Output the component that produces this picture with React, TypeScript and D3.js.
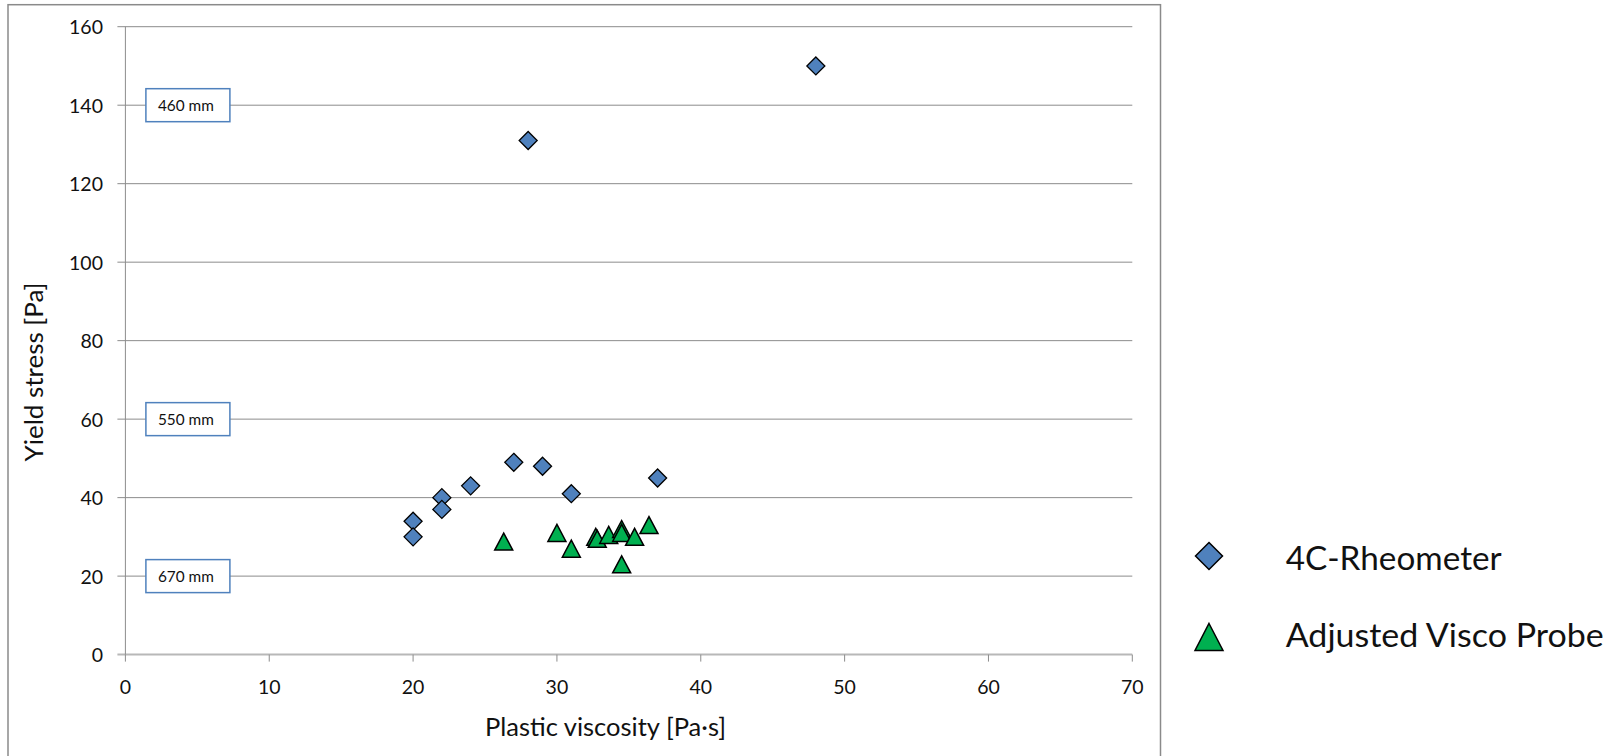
import React from "react";
import * as d3 from "d3";

// Yield stress vs. plastic viscosity for two measuring devices
const rheometerX = [48, 28, 20, 20, 22, 22, 24, 27, 29, 31, 37];
const rheometerY = [150, 131, 34, 30, 40, 37, 43, 49, 48, 41, 45];

const viscoX = [26.3, 30, 31, 32.7, 32.8, 33.6, 34.5, 34.5, 35.4, 36.4, 34.5];
const viscoY = [28.8, 31, 27, 30, 29.5, 30.5, 32, 31, 30, 33, 23];

const xTicks = [0, 10, 20, 30, 40, 50, 60, 70];
const yTicks = [0, 20, 40, 60, 80, 100, 120, 140, 160];

// Slump-flow reference labels placed on the stress gridlines
const flowLabels = ["460 mm", "550 mm", "670 mm"];
const flowLevels = [140, 60, 20];

const seriesNames = ["4C-Rheometer", "Adjusted Visco Probe"];

const W = 1612;
const H = 756;
const FONT = "Lato, 'Open Sans', sans-serif";
const BLUE = "#4F81BD";
const GREEN = "#00B050";

const x = d3.scaleLinear().domain([0, 70]).range([125.4, 1132.3]);
const y = d3.scaleLinear().domain([0, 160]).range([654.6, 26.7]);

const diamond = (cx: number, cy: number, w: number, h: number) =>
  `M${cx},${cy - h / 2}L${cx + w / 2},${cy}L${cx},${cy + h / 2}L${cx - w / 2},${cy}Z`;
const triangle = (cx: number, cy: number, w: number, h: number) =>
  `M${cx},${cy - h / 2}L${cx + w / 2},${cy + h / 2}L${cx - w / 2},${cy + h / 2}Z`;

export default function App() {
  const x0 = x(0);
  const x1 = x(70);
  const yBase = y(0);
  return (
    <svg
      width={W}
      height={H}
      style={{ position: "absolute", left: 0, top: 0, background: "#fff" }}
      fontFamily={FONT}
    >
      <rect x={0} y={0} width={W} height={H} fill="#fff" />
      {/* chart frame */}
      <rect x={8} y={4.7} width={1152.5} height={H + 10} fill="none" stroke="#8a8a8a" strokeWidth={1.5} />

      {/* horizontal gridlines + y ticks */}
      {yTicks.map((t) => (
        <g key={"gy" + t}>
          <line
            x1={x0 - 8}
            x2={x1}
            y1={y(t)}
            y2={y(t)}
            stroke={t === 0 ? "#b8b8b8" : "#8c8c8c"}
            strokeWidth={t === 0 ? 2 : 1}
          />
          <text
            x={103}
            y={y(t)}
            textAnchor="end"
            dominantBaseline="central"
            fontSize={19.5}
            fill="#111"
          >
            {t}
          </text>
        </g>
      ))}

      {/* y axis line */}
      <line x1={x0} x2={x0} y1={y(160)} y2={yBase} stroke="#8c8c8c" strokeWidth={1} />

      {/* x ticks + labels */}
      {xTicks.map((t) => (
        <g key={"gx" + t}>
          <line x1={x(t)} x2={x(t)} y1={yBase} y2={yBase + 7} stroke="#8c8c8c" strokeWidth={1} />
          <text
            x={x(t)}
            y={686}
            textAnchor="middle"
            dominantBaseline="central"
            fontSize={19.5}
            fill="#111"
          >
            {t}
          </text>
        </g>
      ))}

      {/* flow labels */}
      {flowLabels.map((lab, i) => {
        const cy = y(flowLevels[i]);
        const bx = x0 + 20.5;
        return (
          <g key={lab}>
            <rect
              x={bx}
              y={cy - 16.5}
              width={84}
              height={33}
              fill="#fff"
              stroke={BLUE}
              strokeWidth={1.5}
            />
            <text
              x={bx + 12}
              y={cy + 5.5}
              fontSize={15}
              fill="#111"
              textLength={56}
              lengthAdjust="spacingAndGlyphs"
            >
              {lab}
            </text>
          </g>
        );
      })}

      {/* axis titles */}
      <text
        x={605.5}
        y={736}
        textAnchor="middle"
        fontSize={25}
        fill="#111"
        textLength={241}
        lengthAdjust="spacingAndGlyphs"
      >
        Plastic viscosity [Pa·s]
      </text>
      <text
        transform="translate(43,372) rotate(-90)"
        textAnchor="middle"
        fontSize={25}
        fill="#111"
        textLength={179}
        lengthAdjust="spacingAndGlyphs"
      >
        Yield stress [Pa]
      </text>

      {/* series markers */}
      {rheometerX.map((v, i) => (
        <path
          key={"r" + i}
          d={diamond(x(v), y(rheometerY[i]), 18, 18)}
          fill={BLUE}
          stroke="#000"
          strokeWidth={1.3}
        />
      ))}
      {viscoX.map((v, i) => (
        <path
          key={"v" + i}
          d={triangle(x(v), y(viscoY[i]), 18, 17)}
          fill={GREEN}
          stroke="#000"
          strokeWidth={1.5}
        />
      ))}

      {/* legend */}
      <path d={diamond(1209, 556, 27, 27)} fill={BLUE} stroke="#000" strokeWidth={1.5} />
      <text
        x={1285.7}
        y={570}
        fontSize={32}
        fill="#111"
        textLength={216}
        lengthAdjust="spacingAndGlyphs"
      >
        {seriesNames[0]}
      </text>
      <path d={triangle(1209, 637, 28, 27)} fill={GREEN} stroke="#000" strokeWidth={1.5} />
      <text
        x={1285.7}
        y={647}
        fontSize={32}
        fill="#111"
        textLength={318}
        lengthAdjust="spacingAndGlyphs"
      >
        {seriesNames[1]}
      </text>
    </svg>
  );
}
